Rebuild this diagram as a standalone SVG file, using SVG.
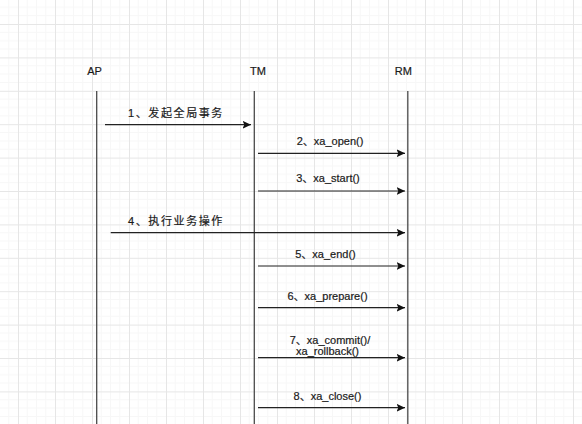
<svg xmlns="http://www.w3.org/2000/svg" width="582" height="424" viewBox="0 0 582 424">
  <defs>
    <pattern id="grid" patternUnits="userSpaceOnUse" x="18" y="24" width="37" height="33.4">
      <rect width="37" height="33.4" fill="#ffffff"/>
      <path d="M9.25 0V33.4M18.5 0V33.4M27.75 0V33.4M0 8.35H37M0 16.7H37M0 25.05H37" stroke="#f7f7f7" stroke-width="1" fill="none"/>
      <path d="M0.5 0V33.4M0 0.5H37" stroke="#e6e6e6" stroke-width="1" fill="none"/>
    </pattern>
    <marker id="arr" markerWidth="10" markerHeight="10" refX="8.5" refY="4.5" orient="auto" markerUnits="userSpaceOnUse">
      <path d="M0 0.5L8.5 4.5L0 8.5L1.8 4.5Z" fill="#111"/>
    </marker>
    <style>
      .lbl { font-family: "Liberation Sans", "Noto Sans CJK SC", sans-serif; font-size: 11px; fill: #1a1a1a; stroke: #1a1a1a; stroke-width: 0.2; text-anchor: middle; }
      .cjk { letter-spacing: 1.6px; }
      .life { stroke: #4a4a4a; stroke-width: 1.3; fill: none; }
      .msg { stroke: #222; stroke-width: 1.2; fill: none; marker-end: url(#arr); }
    </style>
  </defs>
  <rect width="582" height="424" fill="url(#grid)"/>

  <g id="AP">
    <text class="lbl" x="94.5" y="74.5">AP</text>
    <line class="life" x1="96.7" y1="91" x2="96.7" y2="424"/>
  </g>
  <g id="TM">
    <text class="lbl" x="258" y="74.5">TM</text>
    <line class="life" x1="254.3" y1="91" x2="254.3" y2="424"/>
  </g>
  <g id="RM">
    <text class="lbl" x="403.3" y="74.5">RM</text>
    <line class="life" x1="407.8" y1="91" x2="407.8" y2="424"/>
  </g>

  <g id="connectors">
    <line class="msg" x1="105" y1="124.7" x2="251" y2="124.7"/>
    <line class="msg" x1="258" y1="153.3" x2="405" y2="153.3"/>
    <line class="msg" x1="258" y1="191" x2="405" y2="191"/>
    <line class="msg" x1="110.7" y1="232.7" x2="405" y2="232.7"/>
    <line class="msg" x1="258" y1="266" x2="405" y2="266"/>
    <line class="msg" x1="258" y1="307.7" x2="405" y2="307.7"/>
    <line class="msg" x1="258" y1="357.7" x2="405" y2="357.7"/>
    <line class="msg" x1="258" y1="407.7" x2="405" y2="407.7"/>
  </g>

  <g id="labels">
    <text class="lbl cjk" x="176" y="116.5">1、发起全局事务</text>
    <text class="lbl" x="330" y="145">2、xa_open()</text>
    <text class="lbl" x="328" y="182">3、xa_start()</text>
    <text class="lbl cjk" x="176" y="225">4、执行业务操作</text>
    <text class="lbl" x="325.5" y="257.5">5、xa_end()</text>
    <text class="lbl" x="327.5" y="300">6、xa_prepare()</text>
    <text class="lbl" x="330" y="343.5">7、xa_commit()/</text>
    <text class="lbl" x="327.5" y="355">xa_rollback()</text>
    <text class="lbl" x="327.5" y="400">8、xa_close()</text>
  </g>
</svg>
